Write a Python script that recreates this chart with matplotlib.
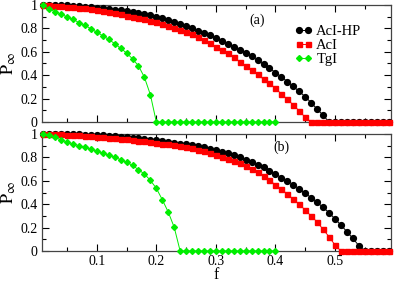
import numpy as np
import matplotlib.pyplot as plt
from matplotlib.ticker import MultipleLocator, FixedLocator, FixedFormatter

plt.rcParams['font.family'] = 'Liberation Serif'
plt.rcParams['mathtext.fontset'] = 'stix'

# f values (step 0.01)
f = np.round(np.arange(1, 60) * 0.01, 2)
f_tgi = np.round(np.arange(1, 41) * 0.01, 2)

# panel (a)
acihp_a = [1.000, 1.000, 0.999, 0.998, 0.996, 0.993, 0.990, 0.986, 0.982, 0.977,
           0.972, 0.966, 0.960, 0.953, 0.948, 0.942, 0.934, 0.925, 0.914, 0.900,
           0.886, 0.872, 0.855, 0.838, 0.821, 0.801, 0.780, 0.760, 0.740, 0.718,
           0.695, 0.670, 0.645, 0.618, 0.590, 0.560, 0.528, 0.495, 0.460, 0.423,
           0.385, 0.346, 0.304, 0.261, 0.216, 0.165, 0.110, 0.058, 0.0] + [0.0] * 10
aci_a = [1.000, 0.998, 0.995, 0.991, 0.987, 0.982, 0.977, 0.971, 0.964, 0.955,
         0.947, 0.938, 0.929, 0.920, 0.910, 0.900, 0.889, 0.878, 0.865, 0.851,
         0.837, 0.822, 0.806, 0.790, 0.773, 0.750, 0.726, 0.701, 0.672, 0.644,
         0.615, 0.587, 0.553, 0.516, 0.481, 0.444, 0.410, 0.365, 0.331, 0.288,
         0.239, 0.194, 0.145, 0.094, 0.040, 0.0] + [0.0] * 13
tgi_a = [1.000, 0.968, 0.942, 0.922, 0.898, 0.877, 0.850, 0.826, 0.798, 0.766,
         0.738, 0.706, 0.670, 0.630, 0.590, 0.540, 0.480, 0.382, 0.233, 0.0] + [0.0] * 20

# panel (b)
acihp_b = [1.000, 1.000, 0.999, 0.999, 0.998, 0.997, 0.996, 0.994, 0.992, 0.990,
           0.988, 0.985, 0.982, 0.978, 0.974, 0.969, 0.964, 0.958, 0.952, 0.945,
           0.939, 0.932, 0.925, 0.918, 0.911, 0.903, 0.895, 0.885, 0.874, 0.862,
           0.849, 0.835, 0.819, 0.801, 0.781, 0.759, 0.736, 0.715, 0.686, 0.658,
           0.627, 0.598, 0.567, 0.530, 0.493, 0.456, 0.416, 0.373, 0.328, 0.274,
           0.222, 0.165, 0.108, 0.046, 0.0] + [0.0] * 4
aci_b = [1.000, 0.999, 0.998, 0.996, 0.994, 0.992, 0.989, 0.986, 0.982, 0.978,
         0.974, 0.970, 0.965, 0.960, 0.955, 0.950, 0.944, 0.938, 0.931, 0.925,
         0.918, 0.911, 0.903, 0.895, 0.886, 0.877, 0.866, 0.853, 0.839, 0.823,
         0.806, 0.788, 0.769, 0.749, 0.728, 0.705, 0.678, 0.642, 0.603, 0.566,
         0.527, 0.487, 0.442, 0.399, 0.350, 0.299, 0.248, 0.185, 0.122, 0.051,
         0.0] + [0.0] * 8
tgi_b = [1.000, 0.989, 0.972, 0.949, 0.932, 0.915, 0.900, 0.886, 0.869, 0.852,
         0.835, 0.818, 0.801, 0.781, 0.758, 0.732, 0.695, 0.658, 0.604, 0.536,
         0.439, 0.333, 0.203, 0.0] + [0.0] * 16

labels = ['AcI-HP', 'AcI', 'TgI']
panel_tags = ['(a)', '(b)']

fig = plt.figure(figsize=(3.95, 2.82), dpi=100)
ax_a = fig.add_axes([0.1063, 0.5674, 0.8835, 0.4149])
ax_b = fig.add_axes([0.1063, 0.1099, 0.8835, 0.4149])

for ax, hp, ac, tg, tag, tx, ty in [(ax_a, acihp_a, aci_a, tgi_a, panel_tags[0], 0.37, 0.87),
                                     (ax_b, acihp_b, aci_b, tgi_b, panel_tags[1], 0.41, 0.89)]:
    ax.plot(f, hp, '-o', color='black', ms=4.2, lw=0.7, clip_on=False, label=labels[0], zorder=3)
    ax.plot(f, ac, '-s', color='red', ms=3.6, lw=0.7, clip_on=False, label=labels[1], zorder=4)
    ax.plot(f_tgi, tg, '-D', color='#00ee00', ms=3.0, lw=0.7, clip_on=False, label=labels[2], zorder=5)
    ax.set_xlim(0.008, 0.594)
    ax.set_ylim(0, 1)
    ax.xaxis.set_major_locator(MultipleLocator(0.1))
    ax.xaxis.set_minor_locator(MultipleLocator(0.05))
    ax.yaxis.set_major_locator(FixedLocator([0, 0.2, 0.4, 0.6, 0.8, 1.0]))
    ax.yaxis.set_major_formatter(FixedFormatter(['0', '0.2', '0.4', '0.6', '0.8', '1']))
    ax.yaxis.set_minor_locator(MultipleLocator(0.1))
    ax.tick_params(which='both', direction='in', top=True, right=True, labelsize=10, pad=3)
    ax.tick_params(which='major', length=5, width=0.8)
    ax.tick_params(which='minor', length=3, width=0.8)
    for s in ax.spines.values():
        s.set_linewidth(0.9)
        s.set_color('#444444')
    ax.set_ylabel(r'$\mathrm{P}_{\infty}$', fontsize=13, labelpad=2)
    ax.text(tx, ty, tag, fontsize=10, ha='center', va='center')

ax_a.tick_params(labelbottom=False)
ax_b.set_xlabel('f', fontsize=11.5)
ax_b.xaxis.set_label_coords(0.5, -0.14)

ax_a.legend(loc='upper right', bbox_to_anchor=(0.945, 0.92), frameon=False, numpoints=2,
            handlelength=1.2, handletextpad=0.3, labelspacing=0.05, fontsize=10.5,
            borderaxespad=0.3)

fig.savefig('out.png', dpi=100)
